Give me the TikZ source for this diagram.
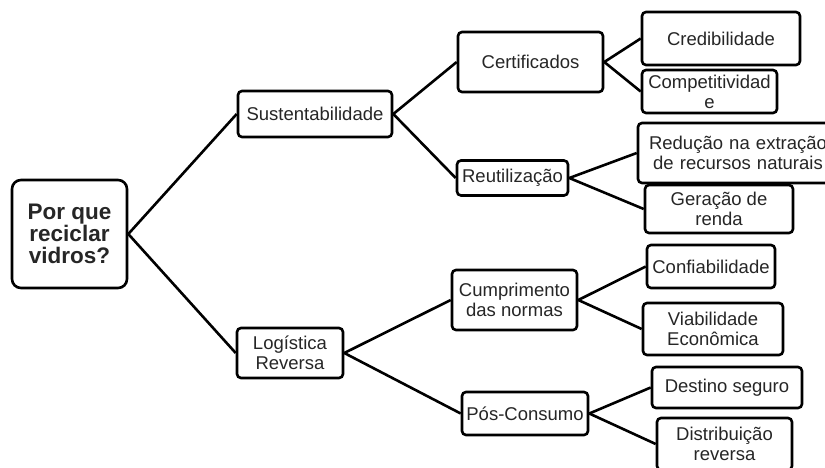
\documentclass[tikz,border=0pt]{standalone}
\usepackage{fontspec}
\setmainfont{Liberation Sans}
\definecolor{txt}{HTML}{262626}
\begin{document}
\begin{tikzpicture}[x=1pt,y=-1pt,
  box/.style={draw=black, line width=2.6pt, rounded corners=4pt, inner sep=0pt, align=center,
    text=txt, font=\fontsize{18.5}{20}\selectfont, fill=white},
  link/.style={draw=black, line width=2.6pt}]
\useasboundingbox (0,0) rectangle (825,467);
\clip (0,0) rectangle (825,467);
\fill[white] (0,0) rectangle (825,467);
% nodes
\node[box, rounded corners=9pt, minimum width=115, minimum height=108, font=\fontsize{22.5}{22}\selectfont\bfseries] (root) at (69.5,234) {Por que\\reciclar\\vidros?};
\node[box, minimum width=154, minimum height=46] (sus) at (315,114) {Sustentabilidade};
\node[box, minimum width=106, minimum height=50] (log) at (290,353) {Logística\\Reversa};
\node[box, minimum width=145, minimum height=60] (cert) at (530.5,62) {Certificados};
\node[box, minimum width=111, minimum height=35] (reu) at (512.5,178) {Reutilização};
\node[box, minimum width=125, minimum height=60] (cump) at (514.5,300) {Cumprimento\\das normas};
\node[box, minimum width=126, minimum height=43] (pos) at (525,413.5) {Pós-Consumo};
\node[box, minimum width=158, minimum height=53] (cred) at (721,38.5) {Credibilidade};
\node[box, minimum width=135, minimum height=43] (comp) at (709.5,91.5) {Competitividad\\e};
\node[box, minimum width=200, minimum height=60, text width=190] (red) at (738,153) {Redução na extração\\de recursos naturais};
\node[box, minimum width=148, minimum height=48] (ger) at (719,209) {Geração de\\renda};
\node[box, minimum width=128, minimum height=43] (conf) at (711,266.5) {Confiabilidade};
\node[box, minimum width=140, minimum height=52] (via) at (713,329) {Viabilidade\\Econômica};
\node[box, minimum width=150, minimum height=41] (dest) at (727,387.5) {Destino seguro};
\node[box, minimum width=135, minimum height=52] (dist) at (724.5,444) {Distribuição\\reversa};
% connectors
\begin{scope}[on background layer/.style={}]
\end{scope}
\draw[link] (root.east) -- (sus.west);
\draw[link] (root.east) -- (log.west);
\draw[link] (sus.east) -- (cert.west);
\draw[link] (sus.east) -- (reu.west);
\draw[link] (cert.east) -- (cred.west);
\draw[link] (cert.east) -- (comp.west);
\draw[link] (reu.east) -- (red.west);
\draw[link] (reu.east) -- (ger.west);
\draw[link] (log.east) -- (cump.west);
\draw[link] (log.east) -- (pos.west);
\draw[link] (cump.east) -- (conf.west);
\draw[link] (cump.east) -- (via.west);
\draw[link] (pos.east) -- (dest.west);
\draw[link] (pos.east) -- (dist.west);
\end{tikzpicture}
\end{document}
